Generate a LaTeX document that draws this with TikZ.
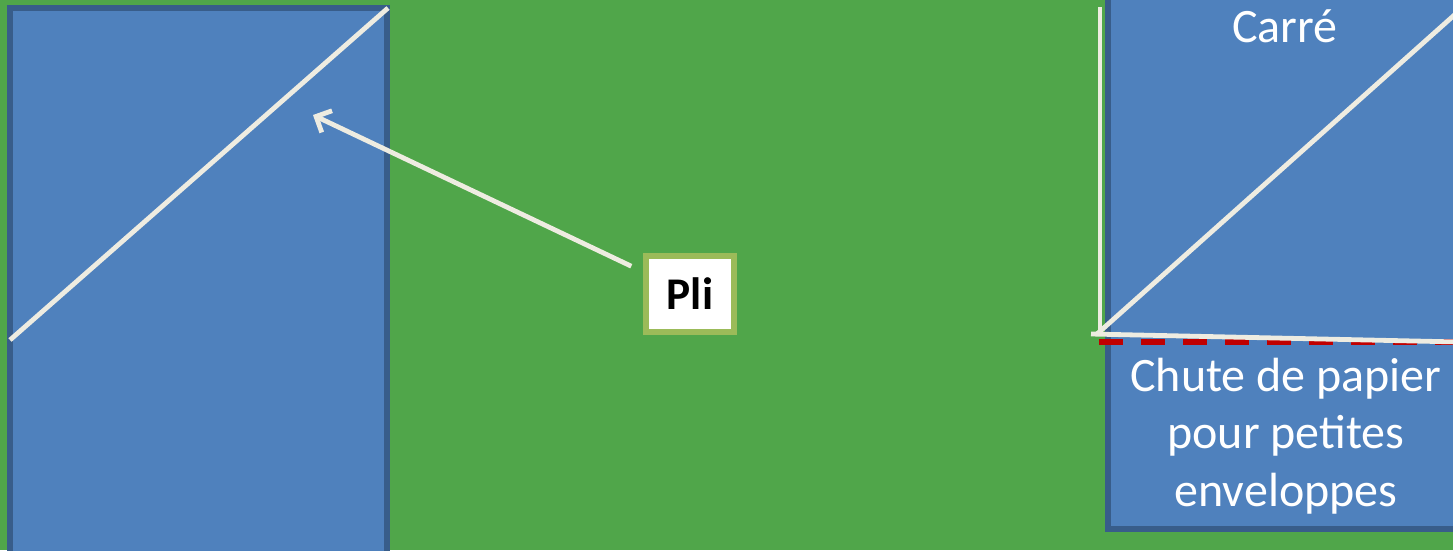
\documentclass[tikz,border=0pt]{standalone}
\usepackage{fontspec}
\setmainfont{Carlito}
\usepackage{tikz}
\usetikzlibrary{arrows.meta,positioning}
\definecolor{bggreen}{RGB}{80,166,74}
\definecolor{paperblue}{RGB}{79,129,189}
\definecolor{paperedge}{RGB}{56,93,138}
\definecolor{foldcream}{RGB}{238,236,225}
\definecolor{boxedge}{RGB}{155,187,89}
\definecolor{cutred}{RGB}{192,0,0}

\begin{document}
\begin{tikzpicture}[
x=0.75pt,y=-0.75pt,
font=\fontsize{36}{43}\selectfont,
paper/.style={fill=paperblue,draw=paperedge,line width=4pt},
fold/.style={draw=foldcream,line width=3.6pt},
foldarrow/.style={fold,-{Straight Barb[length=9pt,width=18pt,line width=3.6pt]},shorten <=10pt},
cutline/.style={draw=cutred,line width=4.8pt,dash pattern=on 18pt off 13.5pt},
labelbox/.style={fill=white,draw=boxedge,line width=4pt,minimum width=66pt,minimum height=57pt,inner sep=0pt}]
    % background
    \fill[bggreen] (0,0) rectangle (1453,550);
    \useasboundingbox (0,0) rectangle (1453,550);

    % left sheet
    \draw[paper] (10,8) rectangle (387,570);
    \draw
    (10,340) coordinate (L1)
    (388,8) coordinate (L2)
    (313,115) coordinate (tip);
    \draw[fold] (L1) -- (L2);

    % right sheet
    \draw[paper] (1108,-20) rectangle (1480,529);
    \draw
    (1100,7) coordinate (V1)
    (1100,334) coordinate (V2)
    (1091,334) coordinate (H1)
    (1460,342) coordinate (H2)
    (1097,334) coordinate (D1)
    (1460,10) coordinate (D2)
    (1099,342) coordinate (C1)
    (1460,342) coordinate (C2);
    \draw[cutline] (C1) -- (C2);
    \draw[fold] (V1) -- (V2);
    \draw[fold] (H1) -- (H2);
    \draw[fold] (D1) -- (D2);

    \node[white,anchor=base] (carre) at (1285,42) {Carré};
    \node[white,align=center] (chute) at (1286,436) {Chute de papier\\pour petites\\enveloppes};

    % label
    \node[labelbox,font=\fontsize{34}{40}\selectfont\bfseries] (pli) at (690,294) {Pli};
    \draw[foldarrow] (pli) -- (tip);

\end{tikzpicture}
\end{document}
